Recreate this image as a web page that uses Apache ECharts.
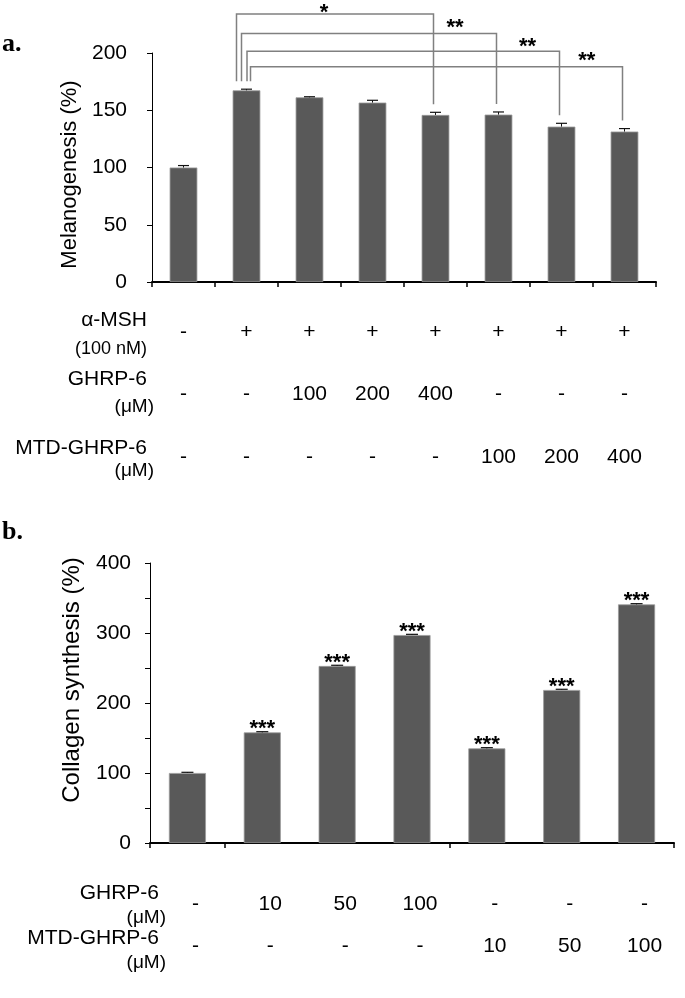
<!DOCTYPE html>
<html><head><meta charset="utf-8">
<script src="https://cdn.jsdelivr.net/npm/echarts@6/dist/echarts.min.js"></script>
<style>html,body{margin:0;padding:0;background:#fff}#c{width:685px;height:998px}</style>
</head><body><div id="c"></div>
<script>
// ---------- Panel a: melanogenesis ----------
const catsA = ['Control','α-MSH','α-MSH + GHRP-6 100','α-MSH + GHRP-6 200','α-MSH + GHRP-6 400','α-MSH + MTD-GHRP-6 100','α-MSH + MTD-GHRP-6 200','α-MSH + MTD-GHRP-6 400'];
const melanogenesis = [100, 167.4, 161.3, 156.7, 145.9, 146.2, 135.7, 131.4];
const melanogenesisErr = [1.7, 1.0, 0.5, 2.0, 2.3, 2.3, 2.9, 2.6];
const rowMshA = ['-','+','+','+','+','+','+','+'];
const rowGhrpA = ['-','-','100','200','400','-','-','-'];
const rowMtdA = ['-','-','-','-','-','100','200','400'];
const yTicksA = [0, 50, 100, 150, 200];
const comparisonsA = [
  {from:1, to:4, text:'*',  level:234},
  {from:1, to:5, text:'**', level:217},
  {from:1, to:6, text:'**', level:201.5},
  {from:1, to:7, text:'**', level:188}
];

// ---------- Panel b: collagen synthesis ----------
const catsB = ['Control','GHRP-6 10','GHRP-6 50','GHRP-6 100','MTD-GHRP-6 10','MTD-GHRP-6 50','MTD-GHRP-6 100'];
const collagen = [100, 158, 252.9, 297.1, 135.2, 218.6, 340.9];
const collagenErr = [1, 1, 1, 1, 1, 1, 1];
const significanceB = ['', '***', '***', '***', '***', '***', '***'];
const rowGhrpB = ['-','10','50','100','-','-','-'];
const rowMtdB = ['-','-','-','-','10','50','100'];
const groupStartsB = [0, 1, 4];
const yTicksB = [0, 100, 200, 300, 400];

// ---------- styling ----------
const FONT = '"Liberation Sans", Arial, sans-serif';
const STAR_FONT = '"Liberation Sans", Arial, sans-serif';
const BAR = '#595959';
// bracket cosmetics (pixel shifts, label placement in category units)
const bracketLeftShift = [-10, -5, 0.5, 4];
const bracketLabelPos = [2.23, 4.31, 5.46, 6.4];
const bracketLabelRise = [6.5, 10.5, 9.5, 11];

const chart = echarts.init(document.getElementById('c'), null, {renderer:'canvas', width:685, height:998});

function rowAxis(gridIndex, cats, row, offset, padLeft) {
  return {
    type:'category', gridIndex, data:cats, position:'bottom', offset,
    axisLine:{show:false}, axisTick:{show:false}, splitLine:{show:false},
    axisLabel:{show:true, interval:0, margin:0, fontFamily:FONT, fontSize:21, lineHeight:21, color:'#000',
      padding: padLeft ? [0,0,0,padLeft] : 0,
      formatter:(v, i) => row[i]}
  };
}

function errorRender(capHalf) {
  return function (params, api) {
    const i = api.value(0);
    const p0 = api.coord([i, api.value(1)]);
    const p1 = api.coord([i, api.value(2)]);
    return {type:'group', children:[
      {type:'line', shape:{x1:p0[0], y1:p0[1], x2:p1[0], y2:p1[1]}, style:{stroke:'#111', lineWidth:1}},
      {type:'line', shape:{x1:p1[0]-capHalf, y1:p1[1], x2:p1[0]+capHalf, y2:p1[1]}, style:{stroke:'#111', lineWidth:1.2}}
    ]};
  };
}

function bracketRender(params, api) {
  const k = params.dataIndex;
  const b = comparisonsA[k];
  const yTop = api.coord([b.from, b.level])[1];
  const xL = api.coord([b.from, 0])[0] + bracketLeftShift[k];
  const xR = api.coord([b.to, 0])[0] - 2;
  const yLB = api.coord([b.from, melanogenesis[b.from] + melanogenesisErr[b.from]])[1] - 8;
  const yRB = api.coord([b.to, melanogenesis[b.to] + melanogenesisErr[b.to]])[1] - 8;
  const lp = bracketLabelPos[k];
  const f = Math.floor(lp), c = Math.ceil(lp);
  const xf = api.coord([f, 0])[0], xc = api.coord([c, 0])[0];
  const lx = xf + (xc - xf) * (lp - f);
  return {type:'group', children:[
    {type:'polyline', shape:{points:[[xL, yLB],[xL, yTop],[xR, yTop],[xR, yRB]]},
      style:{stroke:'#808080', lineWidth:1.5, fill:null}},
    {type:'text', x:lx, y:yTop - bracketLabelRise[k] + 5,
      style:{text:b.text, font:'bold 22px ' + STAR_FONT, fill:'#000', align:'center', verticalAlign:'middle'}}
  ]};
}

function titleText(text, right, y, size) {
  return {type:'text', x:right, y:y, style:{text, font:size + 'px ' + FONT, fill:'#000', align:'right', verticalAlign:'middle'}};
}

const option = {
  animation:false,
  backgroundColor:'#fff',
  grid:[
    {left:152, top:53, width:504, height:229, outerBoundsMode:'none'},
    {left:150, top:563, width:524, height:280, outerBoundsMode:'none'}
  ],
  xAxis:[
    {type:'category', gridIndex:0, data:catsA, position:'bottom',
      axisLine:{lineStyle:{color:'#000', width:2}},
      axisTick:{show:true, interval:0, length:5, lineStyle:{color:'#000', width:1.5}},
      axisLabel:{show:false}, splitLine:{show:false}},
    rowAxis(0, catsA, rowMshA, 39.5),
    rowAxis(0, catsA, rowGhrpA, 101.8),
    rowAxis(0, catsA, rowMtdA, 164.5),
    {type:'category', gridIndex:1, data:catsB, position:'bottom',
      axisLine:{lineStyle:{color:'#000', width:2}},
      axisTick:{show:true, interval:(i) => groupStartsB.includes(i), length:5, lineStyle:{color:'#000', width:1.5}},
      axisLabel:{show:false}, splitLine:{show:false}},
    rowAxis(1, catsB, rowGhrpB, 51, 16),
    rowAxis(1, catsB, rowMtdB, 93, 16)
  ],
  yAxis:[
    {type:'value', gridIndex:0, min:yTicksA[0], max:yTicksA[yTicksA.length-1], interval:yTicksA[1]-yTicksA[0],
      axisLine:{show:true, lineStyle:{color:'#000', width:1}},
      axisTick:{show:true, length:5, lineStyle:{color:'#000', width:1}},
      splitLine:{show:false},
      axisLabel:{margin:25, fontFamily:FONT, fontSize:21, color:'#000'},
      name:'Melanogenesis (%)', nameLocation:'middle', nameGap:62,
      nameTextStyle:{fontFamily:FONT, fontSize:22, color:'#000', padding:[0,14,0,0]}},
    {type:'value', gridIndex:1, min:yTicksB[0], max:yTicksB[yTicksB.length-1], interval:(yTicksB[1]-yTicksB[0])/2,
      axisLine:{show:true, lineStyle:{color:'#000', width:1}},
      axisTick:{show:true, length:5, lineStyle:{color:'#000', width:1}},
      splitLine:{show:false},
      axisLabel:{margin:19, fontFamily:FONT, fontSize:21, color:'#000',
        formatter:(v) => yTicksB.includes(v) ? String(v) : ''},
      name:'Collagen synthesis (%)', nameLocation:'middle', nameGap:66,
      nameTextStyle:{fontFamily:FONT, fontSize:24, color:'#000', padding:[0,0,0,46]}}
  ],
  series:[
    {type:'bar', xAxisIndex:0, yAxisIndex:0, data:melanogenesis, barWidth:'44%',
      itemStyle:{color:BAR, borderColor:'#9a9a9a', borderWidth:0.8}, z:2},
    {type:'custom', xAxisIndex:0, yAxisIndex:0, z:3, silent:true,
      data:melanogenesis.map((v, i) => [i, v, v + melanogenesisErr[i]]),
      encode:{x:0, y:[1,2]}, renderItem:errorRender(5.5)},
    {type:'custom', xAxisIndex:0, yAxisIndex:0, z:4, silent:true, clip:false,
      data:comparisonsA.map(b => [b.from, 0]),
      encode:{x:0, y:1}, renderItem:bracketRender},
    {type:'bar', xAxisIndex:4, yAxisIndex:1, data:collagen, barWidth:'49.5%',
      itemStyle:{color:BAR, borderColor:'#9a9a9a', borderWidth:0.8}, z:2,
      label:{show:true, position:'top', distance:0, offset:[0,8],
        fontFamily:STAR_FONT, fontWeight:'bold', fontSize:22, lineHeight:22, color:'#000',
        formatter:(p) => significanceB[p.dataIndex]}},
    {type:'custom', xAxisIndex:4, yAxisIndex:1, z:3, silent:true,
      data:collagen.map((v, i) => [i, v, v + collagenErr[i]]),
      encode:{x:0, y:[1,2]}, renderItem:errorRender(6)}
  ],
  graphic:[
    {type:'text', x:2, y:44, style:{text:'a.', font:'bold 26px "Liberation Serif", "Times New Roman", serif', fill:'#000', verticalAlign:'middle'}},
    {type:'text', x:2, y:532, style:{text:'b.', font:'bold 26px "Liberation Serif", "Times New Roman", serif', fill:'#000', verticalAlign:'middle'}},
    titleText('α-MSH', 147, 320, 21),
    titleText('(100 nM)', 147, 349, 18),
    titleText('GHRP-6', 147, 379, 21),
    titleText('(μM)', 154, 407, 19),
    titleText('MTD-GHRP-6', 147, 448, 21),
    titleText('(μM)', 154, 471, 19),
    titleText('GHRP-6', 159, 893, 21),
    titleText('(μM)', 166, 918, 19),
    titleText('MTD-GHRP-6', 159, 938, 21),
    titleText('(μM)', 166, 963, 19)
  ]
};
chart.setOption(option);
</script>
</body></html>
